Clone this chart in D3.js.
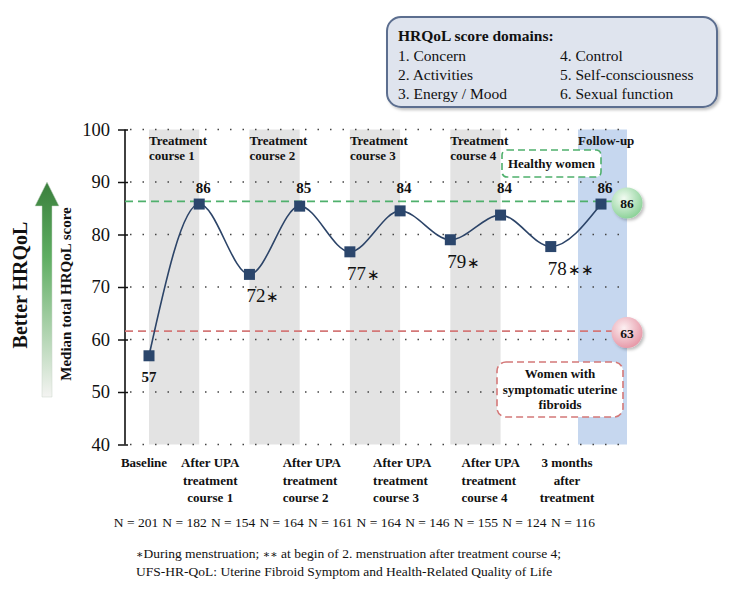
<!DOCTYPE html>
<html><head><meta charset="utf-8">
<script src="https://cdn.jsdelivr.net/npm/d3@7"></script>
<style>
html,body{margin:0;padding:0;background:#fff;}
svg{display:block;}
text{font-family:"Liberation Serif","Times New Roman",serif;fill:#111;}
</style></head>
<body>
<svg id="c" width="734" height="593"></svg>
<script>
// ---------- data ----------
const timepoints = ["Baseline","After course 1","During menstruation 1","After course 2","During menstruation 2","After course 3","During menstruation 3","After course 4","2. menstruation after course 4","3 months after treatment"];
const medianScores = [56.9, 85.8, 72.4, 85.4, 76.7, 84.5, 79.0, 83.7, 77.7, 85.8];
const scoreLabels = ["57","86","72","85","77","84","79","84","78","86"];
const scoreMarks = ["","","∗","","∗","","∗","","∗∗",""];
const nValues = [201,182,154,164,161,164,146,155,124,116];
const yTicks = [40,50,60,70,80,90,100];
const treatmentCourses = [["Treatment","course 1"],["Treatment","course 2"],["Treatment","course 3"],["Treatment","course 4"]];
const courseSpans = [[0,1],[2,3],[4,5],[6,7]];
const followUpLabel = "Follow-up";
const axisLabelIdx = [0,1,3,5,7,9];
const axisLabels = [["Baseline"],["After UPA","treatment","course 1"],["After UPA","treatment","course 2"],["After UPA","treatment","course 3"],["After UPA","treatment","course 4"],["3 months","after","treatment"]];
const refLineValues = [86.3, 61.6];
const refLineLabels = ["86","63"];
const refGroupText = [["Healthy women"],["Women with","symptomatic uterine","fibroids"]];
const domainTitle = "HRQoL score domains:";
const domains = ["1. Concern","2. Activities","3. Energy / Mood","4. Control","5. Self-consciousness","6. Sexual function"];
const yTitle = "Median total HRQoL score";
const arrowTitle = "Better HRQoL";
const footnote1 = [["∗",true],["During menstruation; ",false],["∗∗",true],[" at begin of 2. menstruation after treatment course 4;",false]];
const footnote2 = "UFS-HR-QoL: Uterine Fibroid Symptom and Health-Related Quality of Life";

// ---------- layout ----------
const svg = d3.select("#c");
const axisX = 125;
const x = d3.scalePoint().domain(d3.range(timepoints.length)).range([149, 601]);
const y = d3.scaleLinear().domain([40,100]).range([444.5,129.5]);
const plotRight = 627;
const labelLayout = [{a:"middle",dx:-5},{a:"middle",dx:11},{a:"start",dx:-17},{a:"start",dx:-27},{a:"start",dx:-39},{a:"middle",dx:-34}];

const defs = svg.append("defs");
const ag = defs.append("linearGradient").attr("id","arrowGrad").attr("x1",0).attr("y1",0).attr("x2",0).attr("y2",1);
ag.append("stop").attr("offset","0%").attr("stop-color","#3a7f3c");
ag.append("stop").attr("offset","35%").attr("stop-color","#5fae62");
ag.append("stop").attr("offset","100%").attr("stop-color","#f4f4f2");
const gg = defs.append("radialGradient").attr("id","gCirc").attr("cx","40%").attr("cy","35%").attr("r","65%");
gg.append("stop").attr("offset","0%").attr("stop-color","#f2fbf2");
gg.append("stop").attr("offset","100%").attr("stop-color","#8fd39b");
const rg = defs.append("radialGradient").attr("id","rCirc").attr("cx","40%").attr("cy","35%").attr("r","65%");
rg.append("stop").attr("offset","0%").attr("stop-color","#fcf0f2");
rg.append("stop").attr("offset","100%").attr("stop-color","#e79aa9");
const sh = defs.append("filter").attr("id","shadow").attr("x","-20%").attr("y","-20%").attr("width","150%").attr("height","150%");
sh.append("feDropShadow").attr("dx",2).attr("dy",2).attr("stdDeviation",1.5).attr("flood-color","#000").attr("flood-opacity",0.25);

// ---------- legend box ----------
svg.append("rect").attr("x",387).attr("y",17).attr("width",330).attr("height",90).attr("rx",14)
  .attr("fill","#dfe4ee").attr("stroke","#5b6e8f").attr("stroke-width",2).attr("filter","url(#shadow)");
svg.append("text").attr("x",398).attr("y",41).attr("font-weight","bold").attr("font-size",15.5).text(domainTitle);
svg.selectAll("text.dom").data(domains).join("text").attr("class","dom")
  .attr("x",(d,i)=> i<3?398:560).attr("y",(d,i)=>61+(i%3)*19).attr("font-size",15.5).text(d=>d);

// ---------- bands ----------
svg.selectAll("rect.band").data(courseSpans).join("rect").attr("class","band")
  .attr("x",d=>x(d[0])).attr("width",d=>x(d[1])-x(d[0]))
  .attr("y",y(100)).attr("height",y(40)-y(100)).attr("fill","#e3e3e3");
const last = timepoints.length-1;
svg.append("rect").attr("x",x(last)-23).attr("width",49).attr("y",y(100)).attr("height",y(40)-y(100)).attr("fill","#c6d7ef");

// ---------- gridlines ----------
svg.selectAll("line.grid").data(yTicks).join("line").attr("class","grid")
  .attr("x1",axisX+5).attr("x2",plotRight).attr("y1",d=>y(d)).attr("y2",d=>y(d))
  .attr("stroke","#444").attr("stroke-width",1.5).attr("stroke-dasharray","1.5 11");

// ---------- y axis ----------
const yAxis = svg.append("g").attr("transform",`translate(${axisX},0)`)
  .call(d3.axisLeft(y).tickValues(yTicks).tickSize(7).tickPadding(8));
yAxis.select(".domain").attr("stroke","#111").attr("stroke-width",1.6).attr("d",`M0,${y(100)}V${y(40)}`);
yAxis.selectAll(".tick line").attr("x1",3).attr("stroke","#111").attr("stroke-width",1.5);
yAxis.selectAll(".tick text").attr("font-family","DejaVu Serif").attr("font-size",18.5).attr("fill","#111");

// ---------- reference lines ----------
const refColors = ["#4fb06c","#d47878"];
svg.selectAll("line.ref").data(refLineValues).join("line").attr("class","ref")
  .attr("x1",axisX).attr("x2",615).attr("y1",d=>y(d)).attr("y2",d=>y(d))
  .attr("stroke",(d,i)=>refColors[i]).attr("stroke-width",1.8).attr("stroke-dasharray","8 5");

// ---------- course labels ----------
treatmentCourses.forEach((t,i)=>{
  const tx = svg.append("text").attr("x",x(courseSpans[i][0])).attr("y",145).attr("font-weight","bold").attr("font-size",13);
  t.forEach((s,j)=>tx.append("tspan").attr("x",x(courseSpans[i][0])).attr("y",145+j*14.5).text(s));
});
svg.append("text").attr("x",x(last)-23).attr("y",145).attr("font-weight","bold").attr("font-size",13).text(followUpLabel);

// ---------- line ----------
const line = d3.line().x((d,i)=>x(i)).y(d=>y(d)).curve(d3.curveMonotoneX);
svg.append("path").datum(medianScores).attr("d",line).attr("fill","none").attr("stroke","#2c4468").attr("stroke-width",1.6);
svg.selectAll("rect.pt").data(medianScores).join("rect").attr("class","pt")
  .attr("x",(d,i)=>x(i)-5.5).attr("y",d=>y(d)-5.5).attr("width",11).attr("height",11).attr("fill","#2b466c");

// ---------- point labels ----------
medianScores.forEach((v,i)=>{
  if (i===0) {
    svg.append("text").attr("x",x(i)).attr("y",y(v)+26).attr("text-anchor","middle").attr("font-weight","bold").attr("font-size",15).text(scoreLabels[i]);
  } else if (scoreMarks[i]==="") {
    svg.append("text").attr("x",x(i)+4).attr("y",y(88)).attr("text-anchor","middle").attr("font-weight","bold").attr("font-size",15).text(scoreLabels[i]);
  } else {
    const t = svg.append("text").attr("x",x(i)-3).attr("y",y(v)+28).attr("font-family","DejaVu Serif").attr("font-size",19);
    t.append("tspan").text(scoreLabels[i]);
    t.append("tspan").attr("font-size",15).attr("dx",1).text(scoreMarks[i]);
  }
});

// ---------- reference group boxes & circles ----------
svg.append("rect").attr("x",502).attr("y",150).attr("width",99).attr("height",27).attr("rx",5)
  .attr("fill","#fff").attr("stroke",refColors[0]).attr("stroke-width",1.6).attr("stroke-dasharray","7 4");
svg.append("text").attr("x",551.5).attr("y",168).attr("text-anchor","middle").attr("font-weight","bold").attr("font-size",13).text(refGroupText[0][0]);
svg.append("rect").attr("x",497).attr("y",362).attr("width",126).attr("height",55).attr("rx",9)
  .attr("fill","#fff").attr("stroke",refColors[1]).attr("stroke-width",1.6).attr("stroke-dasharray","7 4");
refGroupText[1].forEach((s,j)=>svg.append("text").attr("x",560).attr("y",378+j*15.5).attr("text-anchor","middle").attr("font-weight","bold").attr("font-size",13).text(s));
["url(#gCirc)","url(#rCirc)"].forEach((f,i)=>{
  svg.append("circle").attr("cx",627).attr("cy",y(refLineValues[i])+1.5).attr("r",15.5).attr("fill",f).attr("filter","url(#shadow)");
  svg.append("text").attr("x",627).attr("y",y(refLineValues[i])+6.5).attr("text-anchor","middle").attr("font-weight","bold").attr("font-size",13.5).text(refLineLabels[i]);
});

// ---------- x axis labels ----------
axisLabelIdx.forEach((idx,k)=>{
  const L = labelLayout[k];
  const t = svg.append("text").attr("text-anchor",L.a).attr("font-weight","bold").attr("font-size",13);
  axisLabels[k].forEach((s,j)=>t.append("tspan").attr("x",x(idx)+L.dx).attr("y",467+j*17.5).text(s));
});

// ---------- N row ----------
const nx = d3.scaleLinear().domain([0,nValues.length-1]).range([136,573]);
svg.selectAll("text.n").data(nValues).join("text").attr("class","n")
  .attr("x",(d,i)=>nx(i)).attr("y",527).attr("text-anchor","middle").attr("font-size",13.5).text(d=>"N = "+d);

// ---------- footnotes ----------
const f1 = svg.append("text").attr("x",136).attr("y",558).attr("font-size",13.5);
footnote1.forEach(([s,isStar])=>{
  const ts = f1.append("tspan").text(s);
  if (isStar) ts.attr("font-size",11).attr("font-family","DejaVu Serif");
});
svg.append("text").attr("x",136).attr("y",576).attr("font-size",13.5).text(footnote2);

// ---------- left arrow & titles ----------
const ax = 47, aTop = 182, aHeadB = 206, aBot = 397;
svg.append("path").attr("d",`M${ax},${aTop} L${ax+12},${aHeadB} L${ax+5},${aHeadB} L${ax+5},${aBot} L${ax-5},${aBot} L${ax-5},${aHeadB} L${ax-12},${aHeadB} Z`)
  .attr("fill","url(#arrowGrad)").attr("stroke","#c9d6c9").attr("stroke-width",0.5);
svg.append("text").attr("transform","translate(27,285) rotate(-90)").attr("text-anchor","middle").attr("font-weight","bold").attr("font-size",20).text(arrowTitle);
svg.append("text").attr("transform","translate(71,294) rotate(-90)").attr("text-anchor","middle").attr("font-weight","bold").attr("font-size",15).text(yTitle);
</script>
</body></html>
